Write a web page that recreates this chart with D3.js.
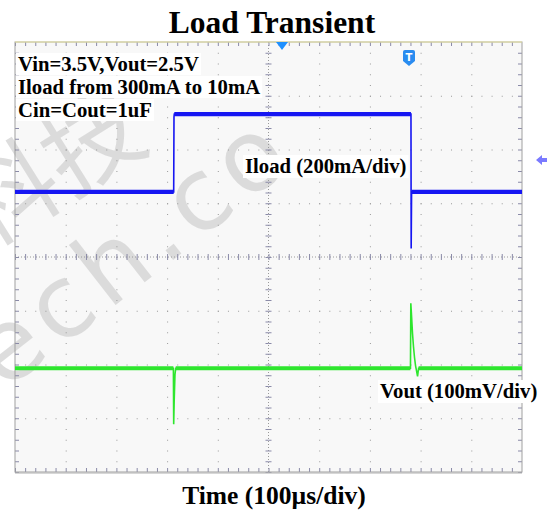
<!DOCTYPE html>
<html lang="en">

<head>
  <meta charset="UTF-8">
  <title>Load Transient</title>
  <style>
    body { margin: 0; background: #fff; }
    text { font-family: "Liberation Serif", "Times New Roman", serif; font-weight: bold; }
  </style>
</head>

<body>

  <svg id="scope" width="549" height="515"></svg>

  <script src="https://cdnjs.cloudflare.com/ajax/libs/d3/7.8.5/d3.min.js"></script>

  <script>
    var divsX = [0, 1, 2, 3, 4, 5, 6, 7, 8, 9, 10];      // time divisions (100us each)
    var divsY = [-4, -3, -2, -1, 0, 1, 2, 3, 4];         // vertical divisions

    // channel 1 : load current (mA), 200mA/div
    var iloadT = [0, 313, 313.6, 314.2, 781, 781.4, 782.2, 1000];
    var iloadV = [10, 10, 290, 300, 300, -200, 10, 10];

    // channel 2 : output voltage deviation from 2.5V (mV), 100mV/div
    var voutT = [0, 312.4, 313, 314, 315.5, 317, 780, 780.7, 782, 784, 786, 788, 790, 792, 794, 796, 1000];
    var voutV = [0, 0, -104, -60, -12, 0, 0, 121, 100, 65, 40, 20, 5, -5, -15, 0, 0];

    var noteLines = ["Vin=3.5V,Vout=2.5V", "Iload from 300mA to 10mA", "Cin=Cout=1uF"];

    var svg = d3.select("#scope"),
      pL = 15, pR = 522, pT = 42, pB = 472,
      divW = (pR - pL) / 10,
      divH = (pB - pT) / 8;

    var x = d3.scaleLinear().domain([0, 1000]).range([pL, pR]),
      xDiv = d3.scaleLinear().domain([0, 10]).range([pL, pR]),
      yDiv = d3.scaleLinear().domain([-4, 4]).range([pB, pT]),
      ch1Off = 1.16, ch2Off = -2.07,
      yI = d3.scaleLinear().domain([(-4 - ch1Off) * 200, (4 - ch1Off) * 200]).range([pB, pT]),
      yV = d3.scaleLinear().domain([(-4 - ch2Off) * 100, (4 - ch2Off) * 100]).range([pB, pT]);

    // title
    svg.append("text").attr("x", 272).attr("y", 33).attr("text-anchor", "middle")
      .attr("font-size", 31.5).text("Load Transient");

    // screen background
    svg.append("rect").attr("x", pL).attr("y", pT).attr("width", pR - pL).attr("height", pB - pT)
      .attr("fill", "#f8f8f8");

    // watermark (faint)
    var wm = svg.append("g").attr("fill", "#d0d0d0").attr("opacity", 0.7);
    wm.append("text").attr("transform", "translate(-14,250) rotate(-32)")
      .style("font-family", "'Noto Sans CJK SC', sans-serif").style("font-weight", "normal")
      .attr("font-size", 98).text("科技");
    wm.append("text").attr("transform", "translate(4,392) rotate(-38)")
      .style("font-family", "'DejaVu Sans', sans-serif").style("font-weight", "normal")
      .attr("font-size", 100).attr("letter-spacing", 8).text("ech.co");

    // grid : dotted division lines
    var grid = svg.append("g").attr("stroke", "#9a9a9a").attr("stroke-width", 1);
    grid.append("g").attr("transform", "translate(0," + pT + ")")
      .call(d3.axisBottom(xDiv).tickValues(divsX.filter(function(d) { return d > 0 && d < 10 && d != 5; }))
        .tickSize(pB - pT).tickFormat(""))
      .call(function(g) {
        g.select(".domain").remove();
        g.selectAll("line").attr("stroke", "#9a9a9a").attr("stroke-dasharray", "1," + (divH / 5 - 1));
      });
    grid.append("g").attr("transform", "translate(" + pL + ",0)")
      .call(d3.axisRight(yDiv).tickValues(divsY.filter(function(d) { return d > -4 && d < 4 && d != 0; }))
        .tickSize(pR - pL).tickFormat(""))
      .call(function(g) {
        g.select(".domain").remove();
        g.selectAll("line").attr("stroke", "#9a9a9a").attr("stroke-dasharray", "1," + (divW / 5 - 1));
      });

    // centre cross lines
    grid.append("line").attr("x1", pL).attr("x2", pR).attr("y1", yDiv(0)).attr("y2", yDiv(0))
      .attr("stroke-dasharray", "1,2");
    grid.append("line").attr("y1", pT).attr("y2", pB).attr("x1", xDiv(5)).attr("x2", xDiv(5))
      .attr("stroke-dasharray", "1,2");

    // minor ticks along centre lines and border
    var minorX = d3.range(0, 50).map(function(i) { return i / 5; }),
      minorY = d3.range(-20, 20).map(function(i) { return i / 5; });

    function styleTicks(g) {
      g.select(".domain").remove();
      g.selectAll("line").attr("stroke", "#8a8aa8");
    } // end of styleTicks

    [[yDiv(0), 3], [yDiv(0), -3], [pT, -4], [pB, 4]].forEach(function(p) {
      svg.append("g").attr("transform", "translate(0," + p[0] + ")")
        .call(d3.axisTop(xDiv).tickValues(minorX).tickSize(p[1]).tickFormat(""))
        .call(styleTicks);
    });
    [[xDiv(5), 3], [xDiv(5), -3], [pL, -4], [pR, 4]].forEach(function(p) {
      svg.append("g").attr("transform", "translate(" + p[0] + ",0)")
        .call(d3.axisLeft(yDiv).tickValues(minorY).tickSize(p[1]).tickFormat(""))
        .call(styleTicks);
    });

    // frame
    svg.append("rect").attr("x", pL).attr("y", pT).attr("width", pR - pL).attr("height", pB - pT)
      .attr("fill", "none").attr("stroke", "#a0a0a0");
    svg.append("line").attr("x1", pL).attr("x2", pR).attr("y1", pT).attr("y2", pT)
      .attr("stroke", "#e8e4a0");
    svg.append("line").attr("x1", pL).attr("x2", pR).attr("y1", pB + 1).attr("y2", pB + 1)
      .attr("stroke", "#b0b0b0");

    // traces
    function drawTrace(tArr, vArr, yScale, colour) {
      var pts = tArr.map(function(t, i) { return [x(t), yScale(vArr[i])]; });
      var g = svg.append("g");
      // thin path for the whole trace
      g.append("path").attr("d", d3.line()(pts))
        .attr("fill", "none").attr("stroke", colour).attr("stroke-width", 1.6);
      // noisy flat sections drawn as a thicker band
      for (var i = 1; i < pts.length; i++) {
        if (Math.abs(pts[i][1] - pts[i - 1][1]) < 2) {
          g.append("line").attr("x1", pts[i - 1][0]).attr("y1", pts[i - 1][1])
            .attr("x2", pts[i][0]).attr("y2", pts[i][1])
            .attr("stroke", colour).attr("stroke-width", 4.2);
        }
      }
    } // end of drawTrace

    drawTrace(iloadT, iloadV, yI, "#1616f2");
    drawTrace(voutT, voutV, yV, "#2ee62e");

    // text with a white box behind it
    function label(s, lx, ly) {
      var box = svg.append("rect").attr("fill", "#fff");
      var t = svg.append("text").attr("x", lx).attr("y", ly).attr("font-size", 20.7).text(s);
      var b = t.node().getBBox();
      box.attr("x", b.x - 2).attr("y", b.y).attr("width", b.width + 4).attr("height", b.height);
    } // end of label

    noteLines.forEach(function(s, i) {
      label(s, 18, 71 + i * 23);
    });
    label("Iload (200mA/div)", 245, 173);
    label("Vout (100mV/div)", 380, 398);

    // markers : trigger position, trigger level, channel reference
    svg.append("path").attr("d", "M276,42 L288,42 L282,50 Z").attr("fill", "#1e90ff");
    svg.append("path").attr("d", "M403,52 Q403,50 405,50 L413,50 Q415,50 415,52 L415,61 L409,66 L403,61 Z")
      .attr("fill", "#2a8cf0");
    svg.append("text").attr("x", 409).attr("y", 61).attr("text-anchor", "middle")
      .attr("font-size", 10).attr("fill", "#fff").style("font-family", "'DejaVu Sans', sans-serif").text("T");
    svg.append("path").attr("d", "M536,160 L542,155 L542,158 L547,158 L547,162 L542,162 L542,165 Z")
      .attr("fill", "#7a7aff");

    // x axis caption
    svg.append("text").attr("x", 274).attr("y", 504).attr("text-anchor", "middle")
      .attr("font-size", 25.5).text("Time (100\u00b5s/div)");
  </script>

</body>

</html>
